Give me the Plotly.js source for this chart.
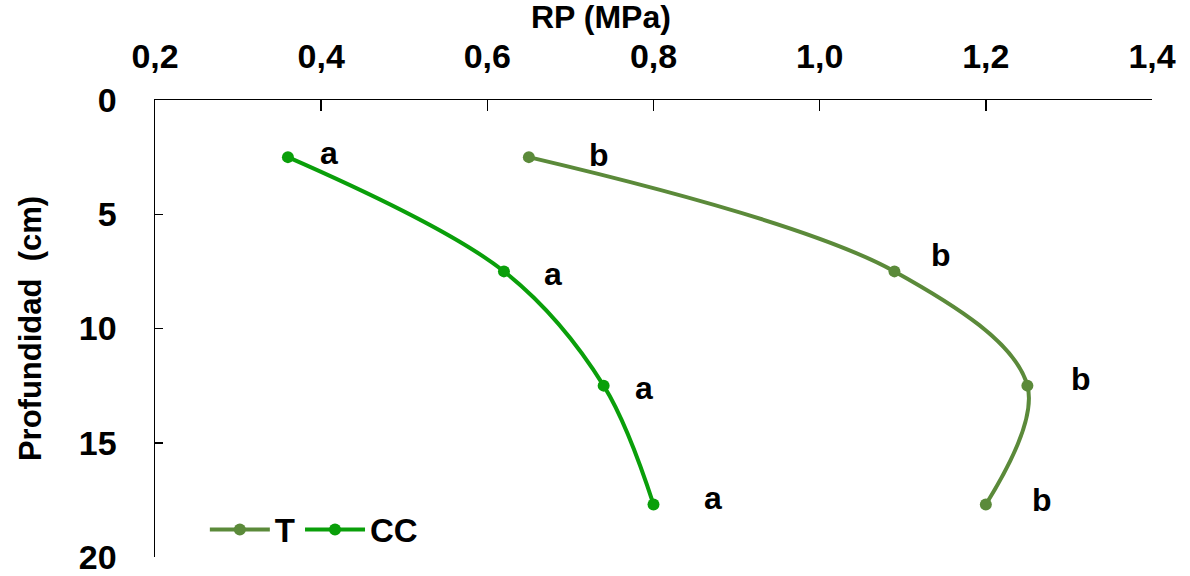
<!DOCTYPE html>
<html>
<head>
<meta charset="utf-8">
<script src="https://cdn.plot.ly/plotly-3.0.1.min.js"></script>
<style>html,body{margin:0;padding:0;background:#fff;}#chart{width:1190px;height:576px;}</style>
</head>
<body>
<div id="chart"></div>
<script>
// Data
const depth = [2.5, 7.5, 12.5, 17.7];
const rpT = [0.65, 1.09, 1.25, 1.20];
const rpCC = [0.36, 0.62, 0.74, 0.80];
const lettersT = ["b", "b", "b", "b"];
const lettersCC = ["a", "a", "a", "a"];
const letterTx = [0.734, 1.146, 1.315, 1.268];
const letterTy = [2.4, 6.8, 12.2, 17.5];
const letterCCx = [0.409, 0.679, 0.789, 0.872];
const letterCCy = [2.3, 7.6, 12.6, 17.4];
const xTicks = [0.2, 0.4, 0.6, 0.8, 1.0, 1.2, 1.4];
const yTicks = [0, 5, 10, 15, 20];

const colT = '#5b8a3a';
const colCC = '#0a9f0a';
const FONT = 'Liberation Sans, Arial, sans-serif';

const traces = [
  {x: rpT, y: depth, name: 'T', type: 'scatter', mode: 'lines+markers',
   line: {color: colT, width: 4, shape: 'spline', smoothing: 1},
   marker: {color: colT, size: 12}},
  {x: rpCC, y: depth, name: 'CC', type: 'scatter', mode: 'lines+markers',
   line: {color: colCC, width: 4, shape: 'spline', smoothing: 1},
   marker: {color: colCC, size: 12}}
];

const pw = 1190 - 155 - 38, ph = 576 - 100 - 19;
const annotations = [];
letterTx.forEach((x, i) => annotations.push({x: x, y: letterTy[i], xref: 'x', yref: 'y', text: lettersT[i], showarrow: false,
  font: {family: FONT, size: 32, color: '#000', weight: 'bold'}}));
letterCCx.forEach((x, i) => annotations.push({x: x, y: letterCCy[i], xref: 'x', yref: 'y', text: lettersCC[i], showarrow: false,
  font: {family: FONT, size: 32, color: '#000', weight: 'bold'}}));
annotations.push({x: (601 - 155) / pw, y: 1 + (100 - 17) / ph, xref: 'paper', yref: 'paper',
  xanchor: 'center', yanchor: 'middle', text: 'RP (MPa)', showarrow: false,
  font: {family: FONT, size: 32, color: '#000', weight: 'bold'}});

const layout = {
  width: 1190, height: 576,
  margin: {l: 155, r: 38, t: 100, b: 19},
  paper_bgcolor: '#fff', plot_bgcolor: '#fff',
  separators: ',.',
  showlegend: true,
  font: {family: FONT, color: '#000'},
  xaxis: {
    side: 'top', range: [0.2, 1.4], tickvals: xTicks, tickformat: '.1f',
    showline: true, linecolor: '#000', linewidth: 1.5, ticks: 'inside', ticklen: 11, tickcolor: '#000', tickwidth: 1.5,
    showgrid: false, zeroline: false, ticklabelstandoff: 17,
    tickfont: {family: FONT, size: 34, color: '#000', weight: 'bold'}
  },
  yaxis: {
    range: [20, 0], tickvals: yTicks,
    showline: true, linecolor: '#000', linewidth: 1.5, ticks: 'inside', ticklen: 8, tickcolor: '#000', tickwidth: 1.5,
    showgrid: false, zeroline: false, ticklabelstandoff: 30,
    tickfont: {family: FONT, size: 34, color: '#000', weight: 'bold'},
    title: {text: 'Profundidad  (cm)', standoff: 28, font: {family: FONT, size: 31, color: '#000', weight: 'bold'}}
  },
  legend: {orientation: 'h', x: 0.05, y: 0.06, xanchor: 'left', yanchor: 'middle',
    bgcolor: 'rgba(0,0,0,0)', font: {family: FONT, size: 33, color: '#000', weight: 'bold'},
    itemwidth: 60, tracegroupgap: 0},
  annotations: annotations
};

Plotly.newPlot('chart', traces, layout, {displayModeBar: false, staticPlot: true});
</script>
</body>
</html>
